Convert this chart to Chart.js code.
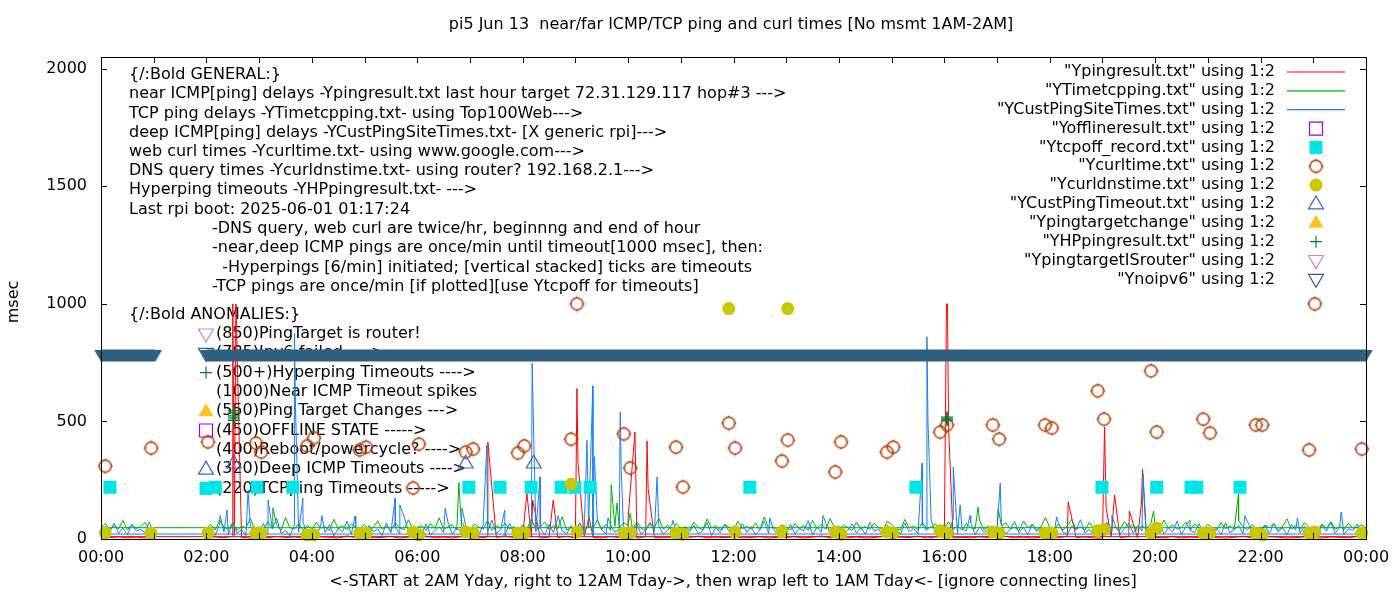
<!DOCTYPE html>
<html>
  <head>
    <meta charset="UTF-8" />
    <script src="https://cdn.jsdelivr.net/npm/chart.js"></script>
    <style>
      body {
        margin: 0;
        background: #fff;
      }
      #wrap {
        width: 1400px;
        height: 600px;
      }
    </style>
  </head>
  <body>
    <div id="wrap"><canvas id="pingChart"></canvas></div>
    <script>
      // ---- data (x = hour of day, y = msec) ----
      const STEP5 = 5 / 60;
      const STEP10 = 10 / 60;
      const yTicks = [0, 500, 1000, 1500, 2000];

      // near ICMP ping, every 10 min, 02:00 .. 24:00
      const redDay = [
        6, 9, 5, 12, 7, 4, // 02
        8, 5, 11, 6, 9, 4, // 03
        5, 10, 7, 4, 13, 6, // 04
        9, 5, 7, 11, 4, 8, // 05
        6, 12, 5, 8, 4, 10, // 06
        7, 4, 9, 6, 14, 5, // 07
        10, 6, 4, 8, 5, 12, // 08
        5, 9, 7, 4, 11, 6, // 09
        8, 4, 10, 6, 5, 9, // 10
        4, 7, 12, 5, 8, 6, // 11
        9, 5, 6, 11, 4, 7, // 12
        6, 10, 4, 8, 13, 5, // 13
        7, 5, 9, 4, 6, 11, // 14
        5, 8, 6, 12, 4, 9, // 15
        10, 4, 7, 5, 9, 6, // 16
        6, 11, 5, 8, 4, 7, // 17
        8, 5, 12, 6, 9, 4, // 18
        4, 9, 6, 10, 5, 8, // 19
        7, 5, 11, 4, 8, 6, // 20
        9, 6, 4, 7, 12, 5, // 21
        5, 10, 8, 4, 6, 9, // 22
        6, 4, 9, 7, 5, 11, // 23
        10,
      ];
      // 00:00 .. 01:00 (after wrap)
      const redEarly = [10, 6, 9, 5, 8, 4, 7];
      const redSpikes = [
        [2.5, 1000], [2.53, 15], [2.56, 1000], [7.34, 412], [8.08, 195],
        [8.19, 166], [8.58, 166], [9.03, 640], [9.05, 323], [9.26, 94],
        [10.0, 90], [10.13, 455], [10.15, 230], [10.36, 417], [10.38, 213],
        [16.02, 490], [16.04, 1000], [16.06, 1000], [16.08, 480],
        [18.35, 157], [19.02, 243], [19.04, 476], [19.07, 130], [19.23, 187],
        [19.51, 119], [19.74, 153], [19.76, 298],
      ];

      // TCP ping, every 5 min, 02:00 .. 24:00
      const greenDay = [
        45, 62, 38, 80, 50, 41, 70, 36, 55, 47, 88, 40, // 02
        52, 39, 75, 44, 60, 37, 92, 48, 42, 66, 38, 57, // 03
        40, 71, 46, 53, 36, 84, 43, 58, 39, 64, 50, 45, // 04
        63, 38, 49, 77, 42, 55, 36, 69, 47, 40, 82, 44, // 05
        48, 58, 37, 66, 45, 90, 40, 52, 61, 38, 73, 46, // 06
        39, 64, 50, 42, 79, 36, 56, 47, 68, 41, 53, 37, // 07
        60, 44, 86, 39, 51, 72, 40, 58, 45, 95, 38, 49, // 08
        42, 67, 38, 55, 46, 81, 40, 62, 37, 54, 48, 70, // 09
        57, 41, 74, 45, 38, 63, 50, 88, 42, 59, 36, 66, // 10
        44, 52, 39, 71, 48, 40, 85, 46, 57, 38, 62, 49, // 11
        37, 76, 43, 55, 41, 68, 39, 94, 47, 52, 40, 61, // 12
        50, 38, 66, 44, 58, 37, 79, 45, 63, 41, 87, 46, // 13
        41, 59, 48, 36, 72, 44, 53, 40, 67, 49, 38, 75, // 14
        62, 45, 39, 83, 47, 56, 38, 70, 43, 51, 64, 40, // 15
        46, 73, 40, 58, 37, 66, 48, 42, 80, 39, 55, 44, // 16
        38, 57, 69, 43, 50, 36, 77, 47, 61, 40, 52, 91, // 17
        49, 42, 64, 38, 56, 84, 41, 53, 37, 70, 46, 59, // 18
        40, 68, 45, 52, 39, 75, 48, 62, 36, 58, 43, 66, // 19
        55, 39, 81, 46, 60, 41, 50, 72, 38, 64, 47, 42, // 20
        63, 48, 37, 70, 44, 56, 40, 78, 52, 39, 61, 45, // 21
        41, 59, 47, 66, 38, 53, 86, 42, 57, 40, 69, 48, // 22
        52, 38, 63, 45, 74, 41, 55, 39, 67, 46, 50, 60, // 23
        48,
      ];
      const greenEarly = [48, 66, 40, 57, 43, 79, 38, 61, 45, 52, 70, 41, 48];
      const greenSpikes = [
        [3.26, 132], [6.79, 240], [9.68, 230], [9.79, 153], [10.04, 110],
        [16.64, 136], [17.02, 130], [19.97, 119], [21.58, 191],
      ];

      // deep ICMP ping, every 5 min, 02:00 .. 24:00
      const blueDay = [
        22, 48, 15, 63, 30, 18, 72, 25, 40, 14, 55, 33, // 02
        28, 66, 19, 45, 88, 24, 37, 12, 58, 29, 70, 21, // 03
        35, 16, 52, 27, 61, 13, 44, 30, 76, 20, 38, 25, // 04
        18, 57, 31, 42, 15, 68, 26, 50, 22, 95, 34, 19, // 05
        40, 23, 64, 17, 35, 52, 28, 71, 20, 46, 31, 58, // 06
        26, 49, 14, 60, 33, 80, 22, 41, 18, 66, 29, 37, // 07
        52, 19, 74, 30, 45, 16, 62, 27, 90, 35, 21, 56, // 08
        33, 68, 24, 47, 15, 80, 38, 22, 59, 29, 44, 17, // 09
        48, 26, 63, 19, 40, 72, 31, 55, 20, 37, 64, 25, // 10
        18, 45, 30, 58, 22, 36, 70, 15, 49, 27, 61, 34, // 11
        41, 20, 66, 28, 53, 17, 38, 75, 24, 46, 19, 57, // 12
        30, 62, 21, 44, 35, 78, 16, 51, 29, 67, 23, 40, // 13
        55, 18, 37, 64, 25, 48, 20, 71, 33, 42, 15, 60, // 14
        27, 50, 19, 68, 31, 45, 22, 58, 36, 80, 24, 39, // 15
        62, 30, 85, 21, 47, 34, 70, 18, 53, 28, 44, 25, // 16
        36, 59, 20, 42, 74, 26, 50, 17, 63, 32, 46, 22, // 17
        48, 24, 66, 30, 19, 55, 38, 82, 27, 41, 16, 60, // 18
        29, 71, 35, 52, 21, 44, 67, 25, 58, 33, 18, 49, // 19
        40, 63, 22, 47, 30, 76, 19, 54, 36, 28, 65, 24, // 20
        52, 31, 45, 18, 69, 27, 40, 58, 22, 74, 35, 20, // 21
        34, 57, 23, 66, 29, 48, 17, 62, 38, 25, 53, 30, // 22
        45, 21, 60, 33, 70, 24, 51, 19, 43, 36, 64, 26, // 23
        21,
      ];
      const blueEarly = [21, 55, 30, 68, 24, 47, 18, 62, 35, 41, 27, 73, 21];
      const blueSpikes = [
        [2.26, 100], [2.39, 123], [2.79, 208], [3.17, 166], [3.67, 876],
        [3.69, 560], [3.83, 174], [4.19, 100], [4.82, 98], [5.58, 174],
        [5.67, 145], [6.53, 132], [6.85, 132], [7.32, 400], [7.66, 123],
        [8.18, 749], [8.33, 264], [8.67, 100], [9.22, 420], [9.33, 651],
        [9.36, 350], [9.62, 90], [9.85, 540], [9.87, 300], [10.55, 264],
        [10.85, 80], [12.69, 90], [13.7, 100], [15.58, 323], [15.67, 860],
        [15.69, 498], [16.17, 306], [16.3, 145], [16.49, 100], [17.06, 238],
        [18.13, 94], [19.18, 100], [19.77, 276], [20.66, 80], [21.7, 100],
        [22.7, 90], [23.53, 115],
      ];

      // curl / dns, twice an hour
      const curlTimes = [
        0.08, 0.95, 2.03, 2.94, 3.04, 3.91, 4.04, 4.91, 5.03, 5.92, 6.03, 6.92,
        7.06, 7.91, 8.03, 8.92, 9.03, 9.92, 10.04, 10.91, 11.04, 11.91, 12.03,
        12.92, 13.03, 13.93, 14.04, 14.91, 15.03, 15.92, 16.05, 16.92, 17.04,
        17.91, 18.04, 18.91, 19.03, 19.92, 20.03, 20.91, 21.04, 21.91, 22.03,
        22.92, 23.03, 23.92,
      ];
      const curlMsec = [
        310, 387, 413, 408, 370, 396, 430, 379, 391, 217, 404, 370,
        383, 366, 396, 425, 1000, 447, 302, 391, 221, 493, 387,
        332, 421, 285, 413, 370, 391, 455, 485, 485, 425,
        485, 472, 630, 510, 715, 455, 510, 451, 485, 485,
        379, 1000, 383,
      ];
      const dnsMsec = [
        25, 25, 25, 25, 25, 17, 17, 25, 25, 30, 17, 30,
        25, 25, 25, 234, 30, 25, 25, 25, 20, 980, 30,
        30, 980, 30, 20, 30, 25, 35, 25, 30, 25,
        25, 25, 35, 40, 25, 47, 25, 25, 25, 17,
        25, 30, 25,
      ];

      const tcpoffTimes = [
        0.17, 2.17, 2.96, 3.64, 6.98, 7.57, 8.16, 8.73, 8.99, 9.28, 12.31,
        15.46, 18.99, 20.03, 20.68, 20.79, 21.61,
      ];
      const tcpoffMsec = 220;
      const custTimeoutTimes = [2.52, 6.92, 8.21];
      const custTimeoutMsec = 320;
      const hpTimes = [2.52, 2.52, 2.52, 2.52, 2.52, 16.05, 16.05, 16.05];
      const hpMsec = [546, 535, 524, 515, 505, 518, 511, 504];
      const offlineTimes = [];
      const targetChangeTimes = [];
      const isRouterTimes = [];
      const noipv6Segments = [
        [0.0, 1.03],
        [2.0, 24.0],
      ];
      const noipv6Msec = 780;

      // ---- helpers ----
      function buildPing(day, early, step, spikes) {
        const pts = day.map((v, i) => ({ x: 2 + i * step, y: v }));
        spikes.forEach(([x, y]) => pts.push({ x: x, y: y }));
        pts.sort((a, b) => a.x - b.x);
        early.forEach((v, i) => pts.push({ x: i * step, y: v }));
        return pts;
      }
      function pairs(xs, ys) {
        return xs.map((x, i) => ({ x: x, y: Array.isArray(ys) ? ys[i] : ys }));
      }
      function segments(segs, y) {
        const pts = [];
        segs.forEach(([a, b], i) => {
          if (i > 0) pts.push({ x: (segs[i - 1][1] + a) / 2, y: null });
          pts.push({ x: a, y: y }, { x: b, y: y });
        });
        return pts;
      }

      // small canvases for gnuplot-like markers
      function ringImage(color) {
        const c = document.createElement("canvas");
        c.width = 17;
        c.height = 17;
        const g = c.getContext("2d");
        g.strokeStyle = color;
        g.lineWidth = 1.5;
        g.beginPath();
        g.arc(8.5, 8.5, 6, 0, Math.PI * 2);
        g.moveTo(8.5, 1);
        g.lineTo(8.5, 3);
        g.moveTo(8.5, 14);
        g.lineTo(8.5, 16);
        g.moveTo(1, 8.5);
        g.lineTo(3, 8.5);
        g.moveTo(14, 8.5);
        g.lineTo(16, 8.5);
        g.stroke();
        return c;
      }
      function bandTriangle(color) {
        const c = document.createElement("canvas");
        c.width = 14;
        c.height = 12;
        const g = c.getContext("2d");
        g.fillStyle = color;
        g.beginPath();
        g.moveTo(0, 0);
        g.lineTo(14, 0);
        g.lineTo(7, 12);
        g.closePath();
        g.fill();
        return c;
      }

      const C = {
        red: "#ff0000",
        green: "#00b000",
        blue: "#1a7ff0",
        purple: "#a000e0",
        cyan: "#00e5e5",
        curl: "#b83c00",
        dns: "#c8c800",
        tri: "#3a5fd6",
        orange: "#ffc020",
        hp: "#007a3d",
        lilac: "#c080ff",
        navy: "#306080",
      };
      const ring = ringImage(C.curl);
      const FONT = '16px "DejaVu Sans"';

      function drawMark(ctx, kind, color, x, y) {
        ctx.save();
        ctx.strokeStyle = color;
        ctx.fillStyle = color;
        ctx.lineWidth = 1.2;
        if (kind === "ring") {
          ctx.drawImage(ring, x - 8.5, y - 8.5);
          ctx.restore();
          return;
        }
        ctx.beginPath();
        if (kind === "line") {
          ctx.moveTo(x - 29, y);
          ctx.lineTo(x + 29, y);
        } else if (kind === "dot") {
          ctx.arc(x, y, 6.5, 0, Math.PI * 2);
        } else if (kind === "box" || kind === "square") {
          ctx.rect(x - 6.5, y - 6.5, 13, 13);
        } else if (kind === "up" || kind === "upFill") {
          ctx.moveTo(x, y - 8);
          ctx.lineTo(x + 7.5, y + 5);
          ctx.lineTo(x - 7.5, y + 5);
          ctx.closePath();
        } else if (kind === "down") {
          ctx.moveTo(x - 7.5, y - 5);
          ctx.lineTo(x + 7.5, y - 5);
          ctx.lineTo(x, y + 8);
          ctx.closePath();
        } else if (kind === "plus") {
          ctx.moveTo(x - 6, y);
          ctx.lineTo(x + 6, y);
          ctx.moveTo(x, y - 6);
          ctx.lineTo(x, y + 6);
        }
        if (kind === "dot" || kind === "square" || kind === "upFill") ctx.fill();
        else ctx.stroke();
        ctx.restore();
      }

      const generalText = [
        "{/:Bold GENERAL:}",
        "near ICMP[ping] delays -Ypingresult.txt last hour target 72.31.129.117 hop#3 --->",
        "TCP ping delays -YTimetcpping.txt- using Top100Web--->",
        "deep ICMP[ping] delays -YCustPingSiteTimes.txt- [X generic rpi]--->",
        "web curl times -Ycurltime.txt- using www.google.com--->",
        "DNS query times -Ycurldnstime.txt- using router? 192.168.2.1--->",
        "Hyperping timeouts -YHPpingresult.txt- --->",
        "Last rpi boot: 2025-06-01 01:17:24",
      ];
      const noteText = [
        "-DNS query, web curl are twice/hr, beginnng and end of hour",
        "-near,deep ICMP pings are once/min until timeout[1000 msec], then:",
        "  -Hyperpings [6/min] initiated; [vertical stacked] ticks are timeouts",
        "-TCP pings are once/min [if plotted][use Ytcpoff for timeouts]",
      ];
      const anomalyText = [
        ["down", C.lilac, "(850)PingTarget is router!"],
        ["down", C.navy, "(785)Ipv6 failed ---->"],
        ["plus", C.hp, "(500+)Hyperping Timeouts ---->"],
        [null, null, "(1000)Near ICMP Timeout spikes"],
        ["upFill", C.orange, "(550)Ping Target Changes --->"],
        ["box", C.purple, "(450)OFFLINE STATE ----->"],
        [null, null, "(400)Reboot/powercycle? ---->"],
        ["up", C.tri, "(320)Deep ICMP Timeouts ---->"],
        ["square", C.cyan, "(220)TCPping Timeouts ----->"],
      ];

      // labels under the data, frame / key / titles on top
      const gnuplotLook = {
        id: "gnuplotLook",
        beforeDatasetsDraw(chart) {
          const ctx = chart.ctx;
          ctx.save();
          ctx.font = FONT;
          ctx.fillStyle = "#000";
          ctx.textBaseline = "middle";
          ctx.textAlign = "left";
          generalText.forEach((t, i) => ctx.fillText(t, 129, 75 + i * 19.2));
          noteText.forEach((t, i) => ctx.fillText(t, 212, 229 + i * 19.2));
          ctx.fillText("{/:Bold ANOMALIES:}", 129, 315);
          anomalyText.forEach(([kind, color, t], i) => {
            const y = 334 + i * 19.3;
            if (kind) drawMark(ctx, kind, color, 206, y);
            ctx.fillStyle = "#000";
            ctx.fillText(t, 216, y);
          });
          ctx.restore();
        },
        afterDatasetsDraw(chart) {
          const ctx = chart.ctx;
          const a = chart.chartArea;
          const xs = chart.scales.x;
          const ys = chart.scales.y;
          ctx.save();
          ctx.strokeStyle = "#000";
          ctx.lineWidth = 1;
          ctx.strokeRect(Math.round(a.left) + 0.5, Math.round(a.top) + 0.5,
            Math.round(a.right - a.left), Math.round(a.bottom - a.top));
          ctx.beginPath();
          for (let h = 0; h <= 24; h++) {
            const px = Math.round(xs.getPixelForValue(h)) + 0.5;
            ctx.moveTo(px, a.bottom);
            ctx.lineTo(px, a.bottom - 6);
            ctx.moveTo(px, a.top);
            ctx.lineTo(px, a.top + 6);
          }
          yTicks.forEach((v) => {
            const py = Math.round(ys.getPixelForValue(v)) + 0.5;
            ctx.moveTo(a.left, py);
            ctx.lineTo(a.left + 6, py);
            ctx.moveTo(a.right, py);
            ctx.lineTo(a.right - 6, py);
          });
          ctx.stroke();

          // key
          ctx.font = FONT;
          ctx.textBaseline = "middle";
          ctx.textAlign = "right";
          chart.data.datasets.forEach((ds, i) => {
            const y = 72 + i * 18.85;
            ctx.fillStyle = "#000";
            ctx.fillText(ds.label, 1275, y);
            drawMark(ctx, ds.keyMark, ds.keyColor, 1316, y);
          });

          // titles
          ctx.fillStyle = "#000";
          ctx.textAlign = "center";
          ctx.fillText("pi5 Jun 13  near/far ICMP/TCP ping and curl times [No msmt 1AM-2AM]", 731, 25);
          ctx.fillText("<-START at 2AM Yday, right to 12AM Tday->, then wrap left to 1AM Tday<- [ignore connecting lines]", 733, 582);
          ctx.translate(14, 302);
          ctx.rotate(-Math.PI / 2);
          ctx.fillText("msec", 0, 0);
          ctx.restore();
        },
      };

      const lineDs = (label, data, color, order) => ({
        label: label,
        data: data,
        showLine: true,
        borderColor: color,
        borderWidth: 1,
        pointRadius: 0,
        order: order,
        keyMark: "line",
        keyColor: color,
      });
      const markDs = (label, data, opts, order, keyMark, keyColor) =>
        Object.assign(
          { label: label, data: data, showLine: false, clip: false, order: order, keyMark: keyMark, keyColor: keyColor },
          opts
        );

      new Chart(document.getElementById("pingChart"), {
        type: "scatter",
        data: {
          datasets: [
            lineDs('"Ypingresult.txt" using 1:2', buildPing(redDay, redEarly, STEP10, redSpikes), C.red, 30),
            lineDs('"YTimetcpping.txt" using 1:2', buildPing(greenDay, greenEarly, STEP5, greenSpikes), C.green, 29),
            lineDs('"YCustPingSiteTimes.txt" using 1:2', buildPing(blueDay, blueEarly, STEP5, blueSpikes), C.blue, 28),
            markDs('"Yofflineresult.txt" using 1:2', pairs(offlineTimes, 450),
              { pointStyle: "rect", pointRadius: 9.2, borderColor: C.purple, backgroundColor: "rgba(0,0,0,0)", borderWidth: 1.2 },
              27, "box", C.purple),
            markDs('"Ytcpoff_record.txt" using 1:2', pairs(tcpoffTimes, tcpoffMsec),
              { pointStyle: "rect", pointRadius: 9.2, borderWidth: 0, backgroundColor: C.cyan },
              26, "square", C.cyan),
            markDs('"Ycurltime.txt" using 1:2', pairs(curlTimes, curlMsec),
              { pointStyle: ring, pointRadius: 7 },
              25, "ring", C.curl),
            markDs('"Ycurldnstime.txt" using 1:2', pairs(curlTimes, dnsMsec),
              { pointStyle: "circle", pointRadius: 6.5, borderWidth: 0, backgroundColor: C.dns },
              24, "dot", C.dns),
            markDs('"YCustPingTimeout.txt" using 1:2', pairs(custTimeoutTimes, custTimeoutMsec),
              { pointStyle: "triangle", pointRadius: 8.5, borderColor: C.tri, backgroundColor: "rgba(0,0,0,0)", borderWidth: 1.2 },
              23, "up", C.tri),
            markDs('"Ypingtargetchange" using 1:2', pairs(targetChangeTimes, 550),
              { pointStyle: "triangle", pointRadius: 8.5, borderWidth: 0, backgroundColor: C.orange },
              22, "upFill", C.orange),
            markDs('"YHPpingresult.txt" using 1:2', pairs(hpTimes, hpMsec),
              { pointStyle: "cross", pointRadius: 6, borderColor: C.hp, borderWidth: 1.3 },
              21, "plus", C.hp),
            markDs('"YpingtargetISrouter" using 1:2', pairs(isRouterTimes, 850),
              { pointStyle: "triangle", rotation: 180, pointRadius: 8.5, borderColor: C.lilac, backgroundColor: "rgba(0,0,0,0)", borderWidth: 1.2 },
              20, "down", C.lilac),
            {
              label: '"Ynoipv6" using 1:2',
              data: segments(noipv6Segments, noipv6Msec),
              showLine: true,
              spanGaps: false,
              clip: false,
              borderColor: C.navy,
              borderWidth: 12,
              borderCapStyle: "butt",
              pointStyle: bandTriangle(C.navy),
              pointRadius: 7,
              order: 1,
              keyMark: "down",
              keyColor: C.navy,
            },
          ],
        },
        options: {
          responsive: true,
          maintainAspectRatio: false,
          animation: false,
          events: [],
          layout: { padding: { top: 57, right: 34, left: 0, bottom: 0 } },
          plugins: {
            legend: { display: false },
            title: { display: false },
            tooltip: { enabled: false },
          },
          scales: {
            x: {
              type: "linear",
              min: 0,
              max: 24,
              grid: { display: false, drawTicks: false },
              border: { display: false },
              ticks: {
                stepSize: 2,
                autoSkip: false,
                maxRotation: 0,
                padding: 9,
                color: "#000",
                font: { family: "DejaVu Sans", size: 16 },
                callback: (v) => String(v % 24).padStart(2, "0") + ":00",
              },
              afterFit: (s) => {
                s.height = 61;
              },
            },
            y: {
              min: 0,
              max: 2050,
              grid: { display: false, drawTicks: false },
              border: { display: false },
              afterBuildTicks: (s) => {
                s.ticks = yTicks.map((v) => ({ value: v }));
              },
              ticks: {
                autoSkip: false,
                padding: 14,
                color: "#000",
                font: { family: "DejaVu Sans", size: 16 },
                callback: (v) => String(v),
              },
              afterFit: (s) => {
                s.width = 101;
              },
            },
          },
        },
        plugins: [gnuplotLook],
      });
    </script>
  </body>
</html>
